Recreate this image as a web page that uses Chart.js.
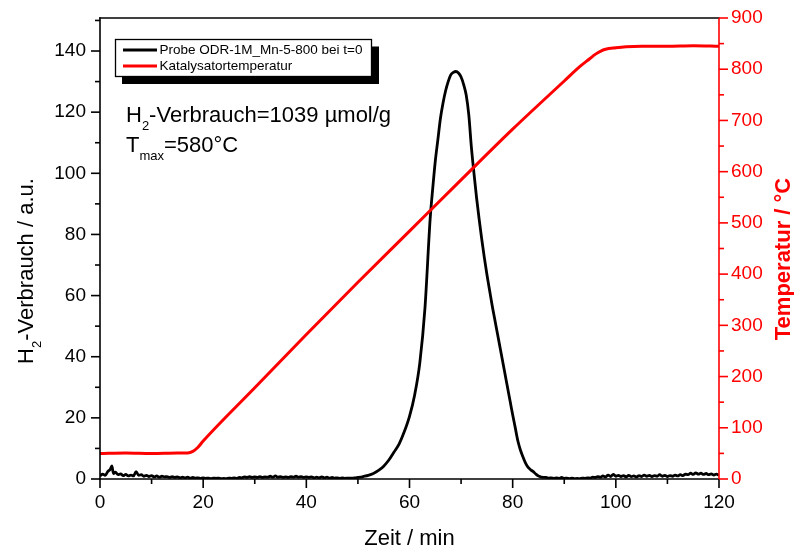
<!DOCTYPE html>
<html>
<head>
<meta charset="utf-8">
<script src="https://cdn.jsdelivr.net/npm/chart.js@4.4.1/dist/chart.umd.min.js"></script>
<style>
  html, body { margin: 0; padding: 0; background: #fff; }
</style>
</head>
<body>
<canvas id="tpr-chart" width="794" height="548"></canvas>
<script>
// H2 consumption signal (a.u.) over time (min)
var h2Time = [
  0, 0.5, 1, 1.5, 2, 2.3, 2.6, 3, 3.5, 4, 4.5, 5, 5.5, 6, 6.5, 7, 7.5, 8, 8.5, 9, 9.5,
  10, 10.5, 11, 11.5, 12, 12.5, 13, 13.5, 14, 14.5, 15, 15.5, 16, 16.5, 17, 17.5, 18, 18.5, 19, 19.5,
  20, 20.5, 21, 21.5, 22, 22.5, 23, 23.5, 24, 24.5, 25, 25.5, 26, 26.5, 27, 27.5, 28, 28.5, 29, 29.5,
  30, 30.5, 31, 31.5, 32, 32.5, 33, 33.5, 34, 34.5, 35, 35.5, 36, 36.5, 37, 37.5, 38, 38.5, 39, 39.5,
  40, 40.5, 41, 41.5, 42, 42.5, 43, 43.5, 44, 44.5, 45, 45.5, 46, 46.5, 47, 47.5, 48, 48.5, 49, 49.5,
  50, 50.5, 51, 52, 53, 54, 55, 56, 57, 58, 59, 60, 61, 62, 63, 64, 64.5, 65, 65.5, 66, 66.5,
  67, 67.5, 68, 68.5, 69, 69.5, 70, 70.5, 71, 71.5, 72, 72.5, 73, 73.5, 74, 74.5, 75, 75.5, 76, 76.5,
  77, 77.5, 78, 78.5, 79, 79.5, 80, 80.5, 81, 81.5, 82, 82.5, 83, 83.5, 84, 84.5, 85, 86,
  86.5, 87, 87.5, 88, 88.5, 89, 89.5, 90, 90.5, 91, 91.5, 92, 92.5, 93, 93.5, 94, 94.5, 95, 95.5,
  96, 96.5, 97, 97.5, 98, 98.5, 99, 99.5, 100, 100.5, 101, 101.5, 102, 102.5, 103, 103.5, 104, 104.5,
  105, 105.5, 106, 106.5, 107, 107.5, 108, 108.5, 109, 109.5, 110, 110.5, 111, 111.5, 112, 112.5,
  113, 113.5, 114, 114.5, 115, 115.5, 116, 116.5, 117, 117.5, 118, 118.5, 119, 119.5, 120
];
var h2Signal = [
  1.0, 1.6, 1.2, 2.4, 3.2, 4.3, 1.8, 2.2, 1.4, 1.7, 1.1, 1.5, 1.0, 1.3, 1.0, 2.4, 1.2, 1.4, 0.9, 1.2, 0.8,
  1.1, 0.7, 1.0, 0.6, 0.9, 0.7, 0.8, 0.5, 0.8, 0.5, 0.7, 0.4, 0.6, 0.4, 0.6, 0.3, 0.5, 0.3, 0.4, 0.2,
  0.4, 0.2, 0.3, 0.1, 0.3, 0.2, 0.3, 0.1, 0.2, 0.1, 0.3, 0.2, 0.4, 0.2, 0.5, 0.4, 0.7, 0.5, 0.8, 0.5,
  0.7, 0.5, 0.8, 0.5, 0.7, 0.6, 0.9, 0.6, 1.0, 0.6, 0.8, 0.5, 0.7, 0.5, 0.8, 0.6, 0.9, 0.6, 0.8, 0.5,
  0.7, 0.5, 0.7, 0.4, 0.6, 0.4, 0.7, 0.4, 0.6, 0.3, 0.5, 0.3, 0.4, 0.2, 0.4, 0.2, 0.3, 0.3, 0.3, 0.4,
  0.5, 0.6, 0.8, 1.2, 1.8, 2.8, 4.2, 6.2, 8.8, 11.5, 15.5, 20.5, 27.5, 38, 56, 85, 95, 104, 111, 118, 123,
  127, 130, 132.2, 133, 133.3, 132.8, 131.5, 129, 125.5, 119, 108.5, 100, 92, 85, 78.5, 72.5, 67, 62, 57, 52.5,
  48, 43.5, 39, 34.5, 30, 25.5, 21, 16.8, 12.5, 9.5, 7.2, 5.2, 3.8, 3.0, 2.4, 1.6, 1.0, 0.5,
  0.5, 0.3, 0.4, 0.2, 0.4, 0.2, 0.5, 0.2, 0.3, 0.1, 0.3, 0.1, 0.2, 0.1, 0.3, 0.2, 0.4, 0.3, 0.6,
  0.5, 0.8, 0.6, 1.0, 0.7, 1.3, 0.8, 1.5, 0.9, 1.2, 0.8, 1.1, 0.7, 1.2, 0.8, 1.0, 0.7, 1.1,
  0.8, 1.3, 0.9, 1.2, 0.8, 1.1, 0.9, 1.4, 0.9, 1.2, 0.8, 1.1, 0.9, 1.3, 1.0, 1.4,
  1.1, 1.6, 1.4, 1.9, 1.5, 2.0, 1.6, 1.9, 1.5, 1.8, 1.4, 1.7, 1.3, 1.6, 1.2
];

// catalyst temperature (°C) over time (min)
var tempTime = [0, 5, 10, 15, 17, 18, 19, 20, 30, 40, 50, 60, 70, 80, 90, 93, 95, 96, 97, 98, 100, 102, 105, 110, 115, 120];
var tempValue = [50, 51, 50, 51, 51, 54, 62, 74, 178, 282, 384, 484, 584, 683, 777, 805, 821, 829, 835, 839, 842, 844, 845, 845, 846, 845];

var seriesLabels = ['Probe ODR-1M_Mn-5-800 bei t=0', 'Katalysatortemperatur'];
var seriesColors = ['#000000', '#ff0000'];

var xTicks = [0, 20, 40, 60, 80, 100, 120];
var h2Ticks = [0, 20, 40, 60, 80, 100, 120, 140];
var tempTicks = [0, 100, 200, 300, 400, 500, 600, 700, 800, 900];

var FONT = '"Liberation Sans", Arial, sans-serif';

function toPoints(xs, ys) {
  var pts = [];
  for (var i = 0; i < xs.length; i++) {
    pts.push({ x: xs[i], y: ys[i] });
  }
  return pts;
}

// draws text runs with subscripts, parts = [[text, isSub], ...]
function drawRich(ctx, parts, x, y, size, subSize, bold, align) {
  var i, w = 0;
  var weight = bold ? 'bold ' : '';
  for (i = 0; i < parts.length; i++) {
    ctx.font = weight + (parts[i][1] ? subSize : size) + 'px ' + FONT;
    w += ctx.measureText(parts[i][0]).width;
  }
  var cx = align === 'center' ? x - w / 2 : x;
  ctx.textAlign = 'left';
  ctx.textBaseline = 'alphabetic';
  for (i = 0; i < parts.length; i++) {
    ctx.font = weight + (parts[i][1] ? subSize : size) + 'px ' + FONT;
    ctx.fillText(parts[i][0], cx, parts[i][1] ? y + 8 : y);
    cx += ctx.measureText(parts[i][0]).width;
  }
}

function line(ctx, x1, y1, x2, y2) {
  ctx.beginPath();
  ctx.moveTo(x1, y1);
  ctx.lineTo(x2, y2);
  ctx.stroke();
}

var framePlugin = {
  id: 'frame',
  afterDraw: function (chart) {
    var ctx = chart.ctx;
    var a = chart.chartArea;
    var sx = chart.scales.x, sy = chart.scales.y, sr = chart.scales.y2;
    var v, p, len;

    ctx.save();
    ctx.lineWidth = 1.6;
    ctx.strokeStyle = '#000';
    ctx.lineCap = 'square';

    // left, bottom and top frame
    line(ctx, a.left, a.top, a.left, a.bottom);
    line(ctx, a.left, a.bottom, a.right, a.bottom);
    line(ctx, a.left, a.top, a.right, a.top);
    ctx.lineCap = 'butt';

    // x ticks, major and minor
    for (v = 0; v <= 120; v += 10) {
      p = sx.getPixelForValue(v);
      len = v % 20 === 0 ? 9 : 5;
      line(ctx, p, a.bottom, p, a.bottom + len);
    }
    // left y ticks
    for (v = 0; v <= 150; v += 10) {
      p = sy.getPixelForValue(v);
      len = v % 20 === 0 ? 9 : 5;
      line(ctx, a.left - len, p, a.left, p);
    }
    // right axis in red
    ctx.strokeStyle = '#ff0000';
    line(ctx, a.right, a.top, a.right, a.bottom);
    for (v = 0; v <= 900; v += 50) {
      p = sr.getPixelForValue(v);
      len = v % 100 === 0 ? 9 : 5;
      line(ctx, a.right, p, a.right + len, p);
    }

    // axis titles
    ctx.fillStyle = '#000';
    drawRich(ctx, [['Zeit / min', false]], (a.left + a.right) / 2, 545, 22, 13, false, 'center');

    ctx.save();
    ctx.translate(33, 271);
    ctx.rotate(-Math.PI / 2);
    drawRich(ctx, [['H', false], ['2', true], ['-Verbrauch / a.u.', false]], 0, 0, 22, 13, false, 'center');
    ctx.restore();

    ctx.save();
    ctx.fillStyle = '#ff0000';
    ctx.translate(790, 259);
    ctx.rotate(-Math.PI / 2);
    drawRich(ctx, [['Temperatur / °C', false]], 0, 0, 22, 13, true, 'center');
    ctx.restore();

    // annotation
    ctx.fillStyle = '#000';
    drawRich(ctx, [['H', false], ['2', true], ['-Verbrauch=1039 µmol/g', false]], 126, 122, 22, 13, false, 'left');
    drawRich(ctx, [['T', false], ['max', true], ['=580°C', false]], 126, 152, 22, 13, false, 'left');

    // legend box with shadow
    ctx.fillStyle = '#000';
    ctx.fillRect(122, 46.5, 257, 37.5);
    ctx.fillStyle = '#fff';
    ctx.fillRect(115, 39.5, 257, 37);
    ctx.strokeStyle = '#000';
    ctx.lineWidth = 1.3;
    ctx.strokeRect(115.5, 39.5, 256, 37);

    var rows = [50, 66];
    chart.data.datasets.forEach(function (ds, i) {
      ctx.strokeStyle = ds.borderColor;
      ctx.lineWidth = 3;
      line(ctx, 123, rows[i], 157, rows[i]);
      ctx.fillStyle = '#000';
      ctx.font = '13.5px ' + FONT;
      ctx.textAlign = 'left';
      ctx.textBaseline = 'middle';
      ctx.fillText(ds.label, 159.5, rows[i] + 0.5);
    });

    ctx.restore();
  }
};

function keepTicks(list) {
  return function (scale) {
    scale.ticks = scale.ticks.filter(function (t) { return list.indexOf(t.value) !== -1; });
  };
}

var hiddenGrid = { color: 'transparent', tickColor: 'transparent', drawOnChartArea: false, tickLength: 9 };

new Chart(document.getElementById('tpr-chart').getContext('2d'), {
  type: 'line',
  data: {
    datasets: [
      {
        label: seriesLabels[0],
        data: toPoints(h2Time, h2Signal),
        borderColor: seriesColors[0],
        borderWidth: 2.8,
        pointRadius: 0,
        cubicInterpolationMode: 'monotone',
        yAxisID: 'y',
        order: 1
      },
      {
        label: seriesLabels[1],
        data: toPoints(tempTime, tempValue),
        borderColor: seriesColors[1],
        borderWidth: 3,
        pointRadius: 0,
        cubicInterpolationMode: 'monotone',
        yAxisID: 'y2',
        order: 0
      }
    ]
  },
  options: {
    responsive: false,
    animation: false,
    devicePixelRatio: 1,
    layout: { padding: { top: 18, left: 0, right: 0, bottom: 0 } },
    plugins: {
      legend: { display: false },
      tooltip: { enabled: false }
    },
    scales: {
      x: {
        type: 'linear',
        min: 0,
        max: 120,
        afterFit: function (s) { s.height = 69; },
        afterBuildTicks: keepTicks(xTicks),
        grid: hiddenGrid,
        border: { display: false },
        ticks: { stepSize: 20, maxRotation: 0, padding: 3, color: '#000', font: { family: FONT, size: 19 } }
      },
      y: {
        position: 'left',
        min: 0,
        max: 150.8,
        afterFit: function (s) { s.width = 100; },
        afterBuildTicks: keepTicks(h2Ticks),
        grid: hiddenGrid,
        border: { display: false },
        ticks: { stepSize: 20, padding: 5, color: '#000', font: { family: FONT, size: 19 } }
      },
      y2: {
        position: 'right',
        min: 0,
        max: 900,
        afterFit: function (s) { s.width = 75; },
        afterBuildTicks: keepTicks(tempTicks),
        grid: hiddenGrid,
        border: { display: false },
        ticks: { stepSize: 100, padding: 3, color: '#ff0000', font: { family: FONT, size: 19 } }
      }
    }
  },
  plugins: [framePlugin]
});
</script>
</body>
</html>
